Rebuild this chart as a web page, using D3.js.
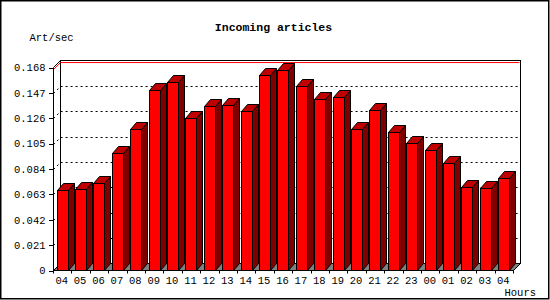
<!DOCTYPE html>
<html>
<head>
<meta charset="utf-8">
<script src="https://cdn.jsdelivr.net/npm/d3@7"></script>
<style>
  html, body { margin: 0; padding: 0; background: #fff; }
  svg { display: block; }
  text { font-family: "Liberation Mono", "DejaVu Sans Mono", monospace; }
</style>
</head>
<body>
<svg id="chart" width="550" height="300"></svg>
<script>
// ---- data ----
const hours = ["04","05","06","07","08","09","10","11","12","13","14","15","16","17","18","19","20","21","22","23","00","01","02","03","04"];
const articlesPerSec = [0.0668,0.0676,0.0726,0.0974,0.1175,0.1490,0.1564,0.1266,0.1363,0.1371,0.1316,0.1620,0.1663,0.1523,0.1421,0.1437,0.1173,0.1332,0.1148,0.1057,0.0999,0.0888,0.0693,0.0684,0.0767];
const yTickValues = [0,0.021,0.042,0.063,0.084,0.105,0.126,0.147,0.168];
const yTickLabels = ["0","0.021","0.042","0.063","0.084","0.105","0.126","0.147","0.168"];
const title = "Incoming articles";
const yTitle = "Art/sec";
const xTitle = "Hours";

// ---- layout ----
const svg = d3.select("#chart");
const pLeft = 53.5, pRight = 513.5, pBottom = 270.5, pTop = 67.5;
const D = 7;          // depth of back plane
const bdx = 6, bdy = 7; // bar depth

const idx = d3.range(hours.length);
const x = d3.scaleBand().domain(idx).range([pLeft, pRight]).paddingInner(0).paddingOuter(0);
const y = d3.scaleLinear().domain([0, 0.168]).range([pBottom, pTop]);

// outer frame
svg.append("rect").attr("x", 0.75).attr("y", 0.75).attr("width", 548).attr("height", 298)
  .attr("fill", "#fff").attr("stroke", "#000").attr("stroke-width", 1.5);

// back plane
const bl = pLeft + D, br = pRight + D, bt = pTop - D, bb = pBottom - D;
svg.append("rect").attr("x", bl).attr("y", bt).attr("width", br - bl).attr("height", bb - bt)
  .attr("fill", "#fff").attr("stroke", "#000").attr("stroke-width", 1);

// floor
svg.append("polygon")
  .attr("points", [[pLeft, pBottom],[pRight, pBottom],[br, bb],[bl, bb]].map(p => p.join(",")).join(" "))
  .attr("fill", "#808080").attr("stroke", "#000").attr("stroke-width", 1);

// left wall top edge
svg.append("line").attr("x1", pLeft).attr("y1", pTop).attr("x2", bl).attr("y2", bt)
  .attr("stroke", "#000");

// gridlines
const gridVals = yTickValues.filter(v => v > 0 && v < 0.168);
const grid = svg.append("g").attr("fill", "none").attr("stroke", "#000").attr("stroke-dasharray", "2,3");
gridVals.forEach(v => {
  const yy = Math.round(y(v)) + 0.5;
  grid.append("path").attr("d", `M${pLeft},${yy}L${bl},${yy - D}L${br},${yy - D}`);
});

// max line
const maxV = d3.max(articlesPerSec);
const ym = y(maxV);
svg.append("path").attr("d", `M${pLeft},${ym}L${bl},${ym - D}L${br - 1},${ym - D}`)
  .attr("fill", "none").attr("stroke", "#ff0000").attr("stroke-width", 1);

// bars
const bars = svg.append("g").attr("stroke", "#000").attr("stroke-width", 1).attr("stroke-linejoin", "miter");
idx.forEach(i => {
  const v = articlesPerSec[i];
  const x0 = Math.round(x(i) + 3) + 0.5;
  const x1 = x0 + 11;
  const yt = Math.round(y(v)) + 0.5;
  const yb = pBottom;
  const g = bars.append("g");
  g.append("polygon")
    .attr("points", [[x1, yt],[x1 + bdx, yt - bdy],[x1 + bdx, yb - bdy],[x1, yb]].map(p => p.join(",")).join(" "))
    .attr("fill", "#800000");
  g.append("polygon")
    .attr("points", [[x0, yt],[x0 + bdx, yt - bdy],[x1 + bdx, yt - bdy],[x1, yt]].map(p => p.join(",")).join(" "))
    .attr("fill", "#c00000");
  g.append("rect").attr("x", x0).attr("y", yt).attr("width", x1 - x0).attr("height", yb - yt)
    .attr("fill", "#ff0000");
});

// front axes
const axes = svg.append("g").attr("stroke", "#000").attr("stroke-width", 1);
axes.append("line").attr("x1", pLeft).attr("y1", pTop).attr("x2", pLeft).attr("y2", pBottom);
axes.append("line").attr("x1", pLeft).attr("y1", pBottom).attr("x2", pRight).attr("y2", pBottom);
yTickValues.forEach(v => {
  const yy = Math.round(y(v)) + 0.5;
  axes.append("line").attr("x1", pLeft - 4.5).attr("y1", yy).attr("x2", pLeft).attr("y2", yy);
});
d3.range(hours.length + 1).forEach(k => {
  const xx = Math.round(pLeft + k * x.bandwidth() - 0.5) + 0.5;
  axes.append("line").attr("x1", xx).attr("y1", pBottom).attr("x2", xx).attr("y2", pBottom + 3);
});

// tick labels
const lab = svg.append("g").attr("fill", "#000").attr("font-size", "10.5px");
yTickValues.forEach((v, k) => {
  lab.append("text").attr("x", 45.5).attr("y", y(v) + 3.8).attr("text-anchor", "end").text(yTickLabels[k]);
});
idx.forEach(i => {
  lab.append("text").attr("x", x(i) + x.bandwidth() / 2 - 1).attr("y", 283.8)
    .attr("text-anchor", "middle").text(hours[i]);
});
lab.append("text").attr("x", 504.5).attr("y", 296).text(xTitle);
lab.append("text").attr("x", 29.5).attr("y", 40.5).text(yTitle);

svg.append("text").attr("x", 273.5).attr("y", 31).attr("text-anchor", "middle")
  .attr("font-family", "'DejaVu Sans Mono', monospace").attr("font-weight", "bold")
  .attr("font-size", "11.5px").attr("fill", "#000").text(title);
</script>
</body>
</html>
